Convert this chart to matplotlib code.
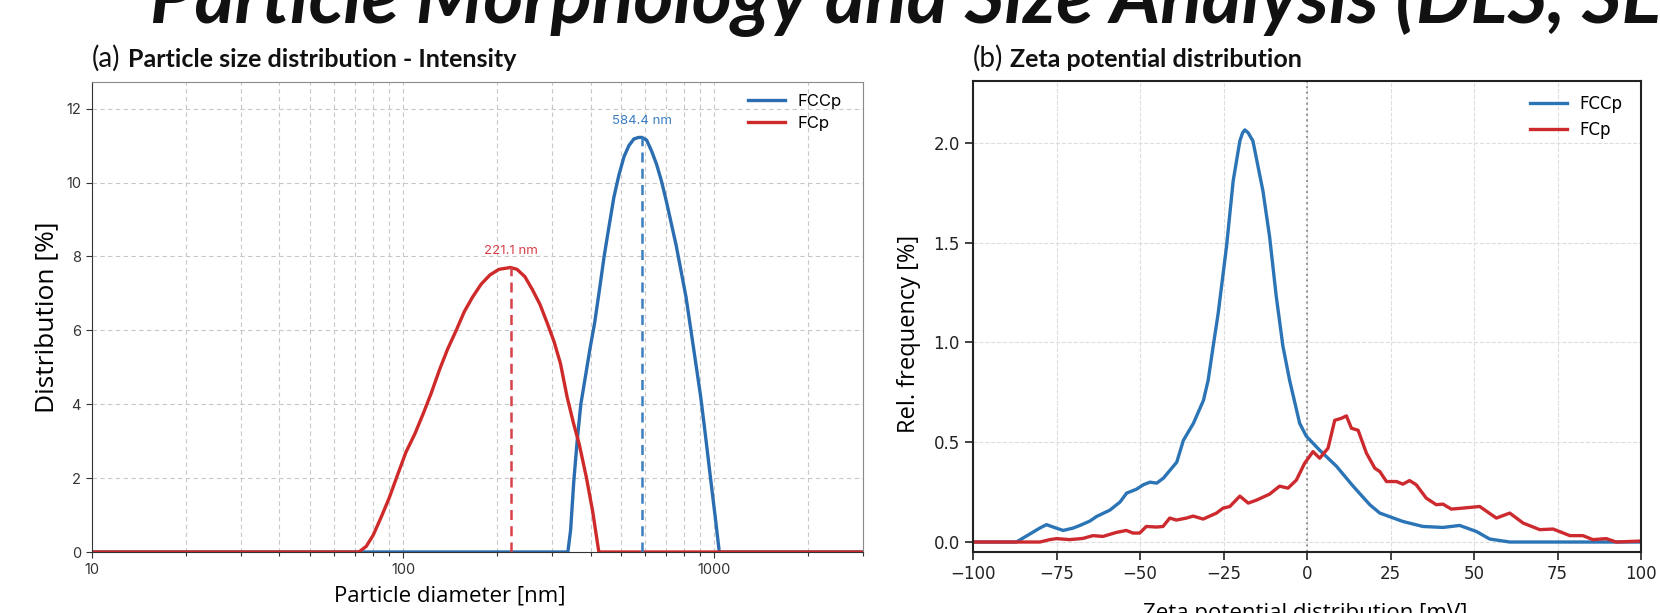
import matplotlib
matplotlib.use('Agg')
import matplotlib.pyplot as plt
from matplotlib import font_manager
from matplotlib.font_manager import FontProperties
from matplotlib.ticker import NullFormatter

# ---- data: (a) particle size distribution (intensity) ----
size_fccp_nm = [10, 338, 345, 353, 362, 372, 384, 398, 412, 427, 442, 458, 475,
                493, 512, 531, 551, 571, 584.4, 605, 628, 651, 675, 700, 726,
                753, 781, 810, 840, 871, 903, 937, 971, 1007, 1036, 3000]
size_fccp_pct = [0, 0, 0.6, 1.9, 3.0, 4.0, 4.7, 5.5, 6.2, 7.1, 8.0, 8.8, 9.6,
                 10.2, 10.7, 11.0, 11.18, 11.22, 11.22, 11.15, 10.85, 10.5, 10.05,
                 9.5, 8.9, 8.3, 7.6, 6.9, 6.0, 5.1, 4.2, 3.1, 2.0, 0.9, 0, 0]
size_fcp_nm = [10, 72, 76, 80, 85, 90, 96, 102, 109, 116, 123, 131, 139, 148,
               157, 167, 178, 190, 203, 221.1, 232, 246, 260, 275, 290, 305, 320,
               336, 352, 368, 388, 406, 425, 3000]
size_fcp_pct = [0, 0, 0.15, 0.45, 0.95, 1.45, 2.1, 2.7, 3.2, 3.75, 4.3, 4.95,
                5.5, 6.0, 6.5, 6.9, 7.25, 7.5, 7.65, 7.7, 7.65, 7.45, 7.1, 6.7,
                6.2, 5.7, 5.1, 4.2, 3.5, 2.9, 2.0, 1.1, 0, 0]
peak_fccp = (584.4, 11.22)
peak_fcp = (221.1, 7.7)

# ---- data: (b) zeta potential distribution ----
zeta_fccp_mv = [-100, -87, -83, -80, -78, -76, -73, -70, -68, -65, -63, -59, -56,
                -54, -51, -49, -47, -45, -43, -41, -39, -37, -34, -31, -29.6,
                -28.1, -26.6, -24.1, -22.1, -20.1, -19.3, -18.6, -17.6, -16.2,
                -13.2, -11.2, -9.2, -7.2, -5.2, -2.2, -0.2, 3.8, 8.8, 13.8, 18.8,
                21.8, 28.7, 34.7, 40.7, 45.7, 50.7, 54.7, 60.7, 100]
zeta_fccp_freq = [0, 0, 0.04, 0.07, 0.087, 0.075, 0.058, 0.07, 0.083, 0.105,
                  0.128, 0.16, 0.2, 0.245, 0.265, 0.287, 0.3, 0.295, 0.32, 0.36,
                  0.40, 0.51, 0.595, 0.71, 0.81, 0.98, 1.145, 1.48, 1.81, 2.01,
                  2.05, 2.065, 2.05, 2.01, 1.76, 1.53, 1.23, 0.98, 0.81, 0.595,
                  0.53, 0.46, 0.38, 0.28, 0.187, 0.145, 0.103, 0.078, 0.073,
                  0.083, 0.053, 0.015, 0, 0]
zeta_fcp_mv = [-100, -80, -77, -75, -71, -67.1, -64.1, -61.1, -57.1, -54.1, -52.1,
               -50.1, -48.1, -45.1, -43.1, -41.1, -39.1, -36.1, -34.1, -31.1,
               -27.1, -25.1, -23.1, -20.1, -17.6, -15.1, -11.2, -8.2, -5.7, -3.2,
               -0.7, 1.8, 3.8, 6.3, 8.3, 10.3, 11.8, 13.3, 15.3, 17.8, 20.3, 21.8,
               23.8, 26.8, 28.7, 30.7, 32.7, 35.7, 38.7, 40.7, 43.2, 46.7, 51.7,
               56.7, 60.7, 64.7, 69.7, 73.7, 78.7, 82.6, 85.6, 89.6, 92.6, 100]
zeta_fcp_freq = [0, 0, 0.012, 0.017, 0.012, 0.018, 0.032, 0.028, 0.048, 0.058,
                 0.045, 0.045, 0.078, 0.075, 0.078, 0.12, 0.11, 0.12, 0.13, 0.115,
                 0.145, 0.17, 0.178, 0.23, 0.195, 0.21, 0.24, 0.28, 0.27, 0.31,
                 0.395, 0.453, 0.42, 0.47, 0.61, 0.62, 0.632, 0.57, 0.56, 0.445,
                 0.37, 0.353, 0.303, 0.303, 0.29, 0.308, 0.287, 0.22, 0.187, 0.19,
                 0.165, 0.17, 0.178, 0.12, 0.145, 0.095, 0.062, 0.065, 0.032,
                 0.032, 0.012, 0.017, 0, 0.005]

installed = {f.name for f in font_manager.fontManager.ttflist}


def pick(*names):
    for n in names:
        if n in installed:
            return n
    return 'DejaVu Sans'


GEO = pick('Inter', 'Lato', 'Roboto')
LABEL = pick('Open Sans', 'Noto Sans')
HEAD = pick('Lato', 'Open Sans')

BLUE = '#2a6db0'
RED = '#cf2a2a'

fig = plt.figure(figsize=(16.6, 6.13), dpi=100)
ax_a = fig.add_axes([92 / 1660, 1 - 552 / 613, 771 / 1660, 470 / 613])
ax_b = fig.add_axes([973 / 1660, 1 - 552 / 613, 668 / 1660, 471 / 613])

# ---- panel a ----
ax_a.set_xscale('log')
ax_a.plot(size_fccp_nm, size_fccp_pct, color=BLUE, lw=2.4, label='FCCp',
          solid_joinstyle='round')
ax_a.plot(size_fcp_nm, size_fcp_pct, color=RED, lw=2.4, label='FCp',
          solid_joinstyle='round')
for (px, py), col in [(peak_fcp, '#d8404a'), (peak_fccp, '#3a7fc0')]:
    ax_a.plot([px, px], [0, py], color=col, lw=1.8, ls=(0, (4, 2.5)))
    ax_a.text(px, py + 0.28, f'{px:.1f} nm', color=col, ha='center',
              va='bottom', fontsize=9.5, family=GEO)
ax_a.set_xlim(10, 3000)
ax_a.set_ylim(0, 12.72)
ax_a.set_xticks([10, 100, 1000])
ax_a.set_xticklabels(['10', '100', '1000'])
ax_a.xaxis.set_minor_formatter(NullFormatter())
ax_a.set_yticks(range(0, 13, 2))
ax_a.grid(True, which='both', axis='x', ls=(0, (4, 3)), color='#c8c8c8', lw=0.8)
ax_a.grid(True, which='major', axis='y', ls=(0, (4, 3)), color='#c8c8c8', lw=0.8)
ax_a.set_axisbelow(True)
ax_a.tick_params(which='both', labelsize=10.5, colors='#333333', length=4,
                 width=0.8, pad=4)
ax_a.tick_params(which='minor', length=3)
for lbl in ax_a.get_xticklabels() + ax_a.get_yticklabels():
    lbl.set_family(GEO)
for side in ['left', 'bottom']:
    ax_a.spines[side].set_color('#333333')
for side in ['top', 'right']:
    ax_a.spines[side].set_color('#8a8a8a')
ax_a.set_ylabel('Distribution [%]', fontsize=19, family=LABEL)
ax_a.yaxis.set_label_coords(-0.042, 0.5)
ax_a.set_xlabel('Particle diameter [nm]', fontsize=16, family=LABEL)
ax_a.xaxis.set_label_coords(0.464, -0.072)
ax_a.legend(loc='upper left', bbox_to_anchor=(0.851, 0.975), frameon=False,
            prop=FontProperties(family=GEO, size=12), handlelength=2.2,
            handletextpad=0.75, labelspacing=0.45, borderpad=0, borderaxespad=0)

# ---- panel b ----
ax_b.plot(zeta_fccp_mv, zeta_fccp_freq, color='#2b74b5', lw=2.4, label='FCCp',
          solid_joinstyle='round')
ax_b.plot(zeta_fcp_mv, zeta_fcp_freq, color='#cc2a2f', lw=2.4, label='FCp',
          solid_joinstyle='round')
ax_b.axvline(0, color='#999999', ls=':', lw=1.5, zorder=1)
ax_b.set_xlim(-100, 100)
ax_b.set_ylim(-0.05, 2.31)
ax_b.set_xticks(range(-100, 101, 25))
ax_b.set_yticks([0, 0.5, 1.0, 1.5, 2.0])
ax_b.grid(True, ls='--', color='#dddddd', lw=0.8)
ax_b.set_axisbelow(True)
ax_b.tick_params(labelsize=12, colors='#222222', length=6, width=1.2, pad=3.5)
for s in ax_b.spines.values():
    s.set_color('#222222')
    s.set_linewidth(1.5)
ax_b.set_ylabel('Rel. frequency [%]', fontsize=17, family=LABEL)
ax_b.yaxis.set_label_coords(-0.078, 0.463)
ax_b.set_xlabel('Zeta potential distribution [mV]', fontsize=16, family=LABEL)
ax_b.xaxis.set_label_coords(0.497, -0.108)
ax_b.legend(loc='upper left', bbox_to_anchor=(0.834, 0.970), frameon=False,
            fontsize=12, handlelength=2.2, handletextpad=0.75, labelspacing=0.45,
            borderpad=0, borderaxespad=0)

# ---- panel titles ----
W, H = 1660, 613
renderer = fig.canvas.get_renderer()
for x0, tag, txt in [(92, '(a)', 'Particle size distribution - Intensity'),
                     (973, '(b)', 'Zeta potential distribution')]:
    t1 = fig.text(x0 / W, 1 - 67 / H, tag, fontsize=20, family=HEAD,
                  fontweight='normal', va='baseline', color='#111111')
    bb = t1.get_window_extent(renderer)
    fig.text((bb.x1 + 7) / W, 1 - 67 / H, txt, fontsize=18, family=HEAD,
             fontweight='bold', va='baseline', color='#111111')

# ---- slide header, cut at the top edge ----
header = 'Particle Morphology and Size Analysis (DLS, SEM)'
probe = fig.text(0, 0, header[:-2], fontsize=40, family=HEAD,
                 fontweight='bold', style='italic')
w = probe.get_window_extent(renderer).width
probe.remove()
fig.text(150 / W, 1 - 23 / H, header, fontsize=40 * 1510 / w, family=HEAD,
         fontweight='bold', style='italic', va='baseline', color='#111111')

fig.savefig('out.png', dpi=100, facecolor='white')
